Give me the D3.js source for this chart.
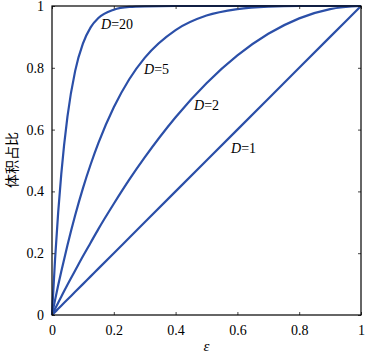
<!DOCTYPE html>
<html>
  <head>
    <meta charset="utf-8">
    <script src="https://d3js.org/d3.v7.min.js"></script>
    <style>
      body { margin: 0; background: #fff; }
    </style>
  </head>
<body>
<script>
// epsilon grid the curves were read at
var eps = [0, 0.01, 0.02, 0.03, 0.05, 0.075, 0.1, 0.125, 0.15, 0.2, 0.25, 0.3, 0.4, 0.5, 0.6, 0.7, 0.8, 0.9, 1.0];
// volume fraction, one list per D
var d1  = [0, 0.01, 0.02, 0.03, 0.05, 0.075, 0.1, 0.125, 0.15, 0.2, 0.25, 0.3, 0.4, 0.5, 0.6, 0.7, 0.8, 0.9, 1.0];
var d2  = [0, 0.020, 0.040, 0.059, 0.098, 0.144, 0.19, 0.234, 0.278, 0.36, 0.438, 0.51, 0.64, 0.75, 0.84, 0.91, 0.96, 0.99, 1.0];
var d5  = [0, 0.049, 0.096, 0.141, 0.226, 0.323, 0.410, 0.487, 0.556, 0.672, 0.763, 0.832, 0.922, 0.969, 0.990, 0.998, 1.0, 1.0, 1.0];
var d20 = [0, 0.182, 0.332, 0.456, 0.642, 0.790, 0.878, 0.931, 0.961, 0.988, 0.997, 0.999, 1.0, 1.0, 1.0, 1.0, 1.0, 1.0, 1.0];
var seriesNames = ["1", "2", "5", "20"];
var tickVals = [0, 0.2, 0.4, 0.6, 0.8, 1];

var W = 365, H = 357;
// plot box ("top" is taken by window.top, so prefix these)
var pLeft = 52, pRight = 361, pTop = 6, pBottom = 315;
var color = "#2b4fa8";
var serif = "'Liberation Serif', 'Times New Roman', serif";

var svg = d3.select("body").append("svg")
    .attr("width", W).attr("height", H);

var x = d3.scaleLinear().domain([0, 1]).range([pLeft, pRight]);
var y = d3.scaleLinear().domain([0, 1]).range([pBottom, pTop]);
var fmt = function (d) { return d === 0 || d === 1 ? String(d) : d3.format(".1f")(d); };

// curves
var series = [d1, d2, d5, d20];
var line = d3.line()
    .x(function (d, i) { return x(eps[i]); })
    .y(function (d) { return y(d); })
    .curve(d3.curveMonotoneX);
svg.append("g").selectAll("path")
    .data(series)
    .enter().append("path")
    .attr("d", line)
    .attr("fill", "none")
    .attr("stroke", color)
    .attr("stroke-width", 2.2);

// axes, ticks pointing in on all four sides
var ax = svg.append("g").attr("transform", "translate(0," + pBottom + ")")
    .call(d3.axisBottom(x).tickValues(tickVals).tickFormat(fmt).tickSizeInner(-3).tickSizeOuter(0).tickPadding(10));
var ay = svg.append("g").attr("transform", "translate(" + pLeft + ",0)")
    .call(d3.axisLeft(y).tickValues(tickVals).tickFormat(fmt).tickSizeInner(-3).tickSizeOuter(0).tickPadding(8));
svg.append("g").attr("transform", "translate(0," + pTop + ")")
    .call(d3.axisTop(x).tickValues(tickVals).tickFormat("").tickSizeInner(-3).tickSizeOuter(0));
svg.append("g").attr("transform", "translate(" + pRight + ",0)")
    .call(d3.axisRight(y).tickValues(tickVals).tickFormat("").tickSizeInner(-3).tickSizeOuter(0));
svg.selectAll(".domain").remove();
svg.selectAll(".tick line").attr("stroke", "#444");
svg.selectAll(".tick text")
    .style("font-family", serif)
    .style("font-size", "14px")
    .attr("fill", "#000");
ax.selectAll(".tick text").attr("dy", "0.71em");

// frame
svg.append("rect")
    .attr("x", pLeft).attr("y", pTop)
    .attr("width", pRight - pLeft).attr("height", pBottom - pTop)
    .attr("fill", "none").attr("stroke", "#000").attr("stroke-width", 1.2);

// curve labels
var labelPos = [[231, 153], [194, 110], [144, 74], [101, 29]];
seriesNames.forEach(function (n, i) {
  var t = svg.append("text")
      .attr("x", labelPos[i][0]).attr("y", labelPos[i][1])
      .style("font-family", serif)
      .style("font-size", "14px");
  t.append("tspan").style("font-style", "italic").text("D");
  t.append("tspan").text("=" + n);
});

// axis titles
svg.append("text")
    .attr("x", (pLeft + pRight) / 2).attr("y", 351)
    .attr("text-anchor", "middle")
    .style("font-family", serif)
    .style("font-style", "italic")
    .style("font-size", "15px")
    .text("ε");
svg.append("text")
    .attr("transform", "translate(17," + 160 + ") rotate(-90)")
    .attr("text-anchor", "middle")
    .style("font-family", "'Noto Sans CJK SC', sans-serif")
    .style("font-size", "14px")
    .text("体积占比");
</script>
</body>
</html>
